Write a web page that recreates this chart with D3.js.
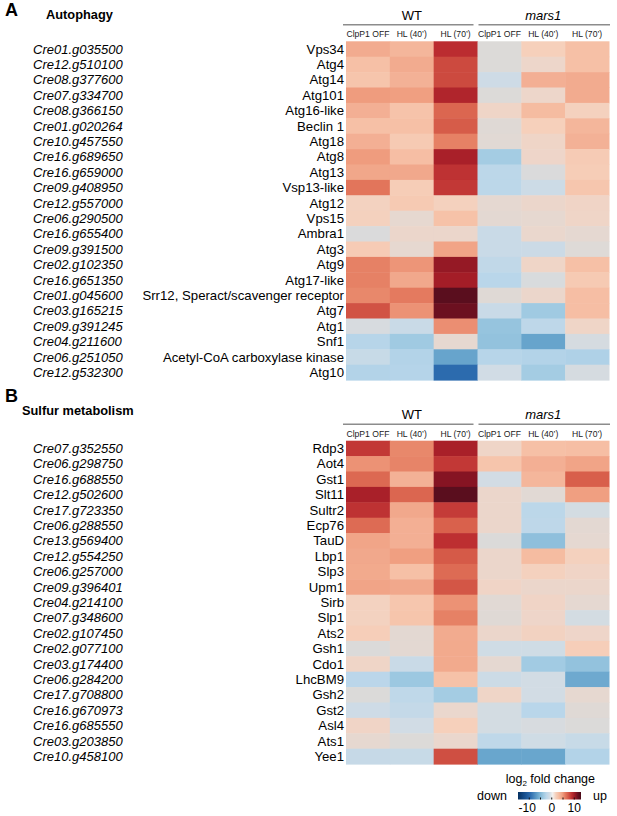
<!DOCTYPE html>
<html>
<head>
<meta charset="utf-8">
<script src="https://cdn.jsdelivr.net/npm/d3@7"></script>
<style>
  body { margin: 0; background: #fff; }
  svg { display: block; font-family: "Liberation Sans", Arial, sans-serif; }
</style>
</head>
<body>
<div id="chart"></div>
<script>
// columns
let strains = ["WT", "mars1"];
let conditions = ["ClpP1 OFF", "HL (40\u2019)", "HL (70\u2019)"];
let columns = ["WT_ClpP1", "WT_HL40", "WT_HL70", "mars1_ClpP1", "mars1_HL40", "mars1_HL70"];

// A - Autophagy
let autophagyIds = ["Cre01.g035500", "Cre12.g510100", "Cre08.g377600", "Cre07.g334700", "Cre08.g366150",
    "Cre01.g020264", "Cre10.g457550", "Cre16.g689650", "Cre16.g659000", "Cre09.g408950", "Cre12.g557000",
    "Cre06.g290500", "Cre16.g655400", "Cre09.g391500", "Cre02.g102350", "Cre16.g651350", "Cre01.g045600",
    "Cre03.g165215", "Cre09.g391245", "Cre04.g211600", "Cre06.g251050", "Cre12.g532300"];
let autophagyNames = ["Vps34", "Atg4", "Atg14", "Atg101", "Atg16-like", "Beclin 1", "Atg18", "Atg8", "Atg13",
    "Vsp13-like", "Atg12", "Vps15", "Ambra1", "Atg3", "Atg9", "Atg17-like", "Srr12, Speract/scavenger receptor",
    "Atg7", "Atg1", "Snf1", "Acetyl-CoA carboxylase kinase", "Atg10"];
let autophagyValues = [
    [4, 3.5, 9, 0, 2, 3],
    [3, 4, 8, 0, 1, 3],
    [2.7, 3.7, 8, -1.2, 3.8, 4],
    [5, 4.8, 9.5, 0, 1, 4],
    [3.8, 2.8, 6.8, 1.2, 3.2, 1.8],
    [3, 3, 7.2, 0.2, 2, 3.5],
    [3.8, 2.4, 5.8, 0.3, 1.2, 3.7],
    [5, 3.1, 9.8, -3.5, 1.1, 2.3],
    [4.3, 4.2, 8.8, -2.3, -0.2, 2.2],
    [6.2, 2.2, 8.6, -2.3, -1.3, 2.6],
    [1.7, 2.4, 1.8, 0.5, 0.9, 1.3],
    [1.8, 0.6, 2.9, 0.4, 0.6, 1.2],
    [-0.2, 0.9, 0.9, -1.5, 0.8, 0.5],
    [2.3, 0.6, 4.5, -1.5, -1.4, 0.1],
    [5.8, 5.2, 10.4, -2, 1.2, 3],
    [5.8, 4.2, 10, -2.5, -0.4, 2.4],
    [5.6, 6, 12, 0.2, 0.9, 3.1],
    [7.6, 5.3, 11.5, -1.5, -3.7, 3.1],
    [-0.5, -1.5, 5.4, -4.2, -2.2, 1.2],
    [-2.6, -3.7, 0.6, -4.3, -6.3, -0.6],
    [-1.6, -2.8, -6.3, -2.6, -2.8, -3],
    [-2.8, -2.7, -9.5, -1, -3.5, -0.6]
];

// B - Sulfur metabolism
let sulfurIds = ["Cre07.g352550", "Cre06.g298750", "Cre16.g688550", "Cre12.g502600", "Cre17.g723350",
    "Cre06.g288550", "Cre13.g569400", "Cre12.g554250", "Cre06.g257000", "Cre09.g396401", "Cre04.g214100",
    "Cre07.g348600", "Cre02.g107450", "Cre02.g077100", "Cre03.g174400", "Cre06.g284200", "Cre17.g708800",
    "Cre16.g670973", "Cre16.g685550", "Cre03.g203850", "Cre10.g458100"];
let sulfurNames = ["Rdp3", "Aot4", "Gst1", "Slt11", "Sultr2", "Ecp76", "TauD", "Lbp1", "Slp3", "Upm1", "Sirb",
    "Slp1", "Ats2", "Gsh1", "Cdo1", "LhcBM9", "Gsh2", "Gst2", "Asl4", "Ats1", "Yee1"];
let sulfurValues = [
    [8.6, 5.6, 9.8, 1.2, 3, 3.1],
    [5.3, 5.7, 8.6, 2.7, 3.8, 4.5],
    [6.7, 3.7, 10.8, -0.9, 3.5, 7.1],
    [9.8, 6.8, 12, 0.9, 0.3, 4.8],
    [8.8, 4.2, 8.5, 0.9, -2.3, -0.8],
    [6.6, 3.8, 7, 0.9, -2.2, 0.4],
    [4.4, 3.8, 8.9, -0.1, -4.5, 0.5],
    [4.2, 4.8, 7.3, 0.9, 3.2, 1.8],
    [4.1, 3, 6.6, 0.9, 1.8, 1.3],
    [4.5, 4.2, 7.5, 1.3, 0.9, 0.9],
    [1.7, 2.6, 5.3, 0.3, 1.3, 0.5],
    [1.7, 2.7, 5.8, 0.2, 1.1, -0.8],
    [2.1, 0.4, 4, 0.9, 1.6, 1.1],
    [-0.1, 0.4, 4.1, -1.1, -1.1, 2.1],
    [1.2, -1.5, 4.1, 0.5, -3.6, -4.3],
    [-2.4, -3.9, 2.9, -1.3, -0.9, -6],
    [-0.1, -2.1, -3.5, 1.2, -0.9, 0.6],
    [-1.2, -1.8, 0.8, -0.8, -2.5, 0.2],
    [1.3, -1, 2, -0.8, -0.5, -0.1],
    [0.6, 0, 0.8, -2.1, -1.1, -1.6],
    [-1.7, -1.6, 7.8, -6.2, -6.2, -2.8]
];

let legendTicks = [-10, 0, 10];
let legendMinor = [-10, -5, 0, 5, 10];

let svgWidth = 617;
let svgHeight = 816;
let rowHeight = 15.4;
let heatLeft = 346;
let heatRight = 609;

let svg = d3.select("#chart")
    .append("svg")
    .attr("width", svgWidth)
    .attr("height", svgHeight);

// log2 fold change colour scale
let color = d3.scaleLinear()
    .domain([-15, -12, -9.5, -6.3, -4, -2.5, -1, 0, 1, 2, 3, 4, 5, 6, 7, 8, 9, 10, 11, 12, 13])
    .range(["#053061", "#17508f", "#2c6bae", "#67a4cc", "#9ac7e0", "#b9d6ea", "#d1dce5", "#dcdad8",
        "#edd6ca", "#f6d0bb", "#f6c0a6", "#f2ab8f", "#ef9c7e", "#e47a5f", "#d9614c", "#cc4a3f",
        "#bb2c30", "#a41d27", "#7e1222", "#5a0e1e", "#4a0a18"])
    .clamp(true);

let x = d3.scaleBand()
    .domain(columns)
    .range([heatLeft, heatRight]);

function drawPanel(letter, title, ids, names, values, o) {
    let y = d3.scaleBand()
        .domain(ids)
        .range([o.top, o.top + ids.length * rowHeight]);

    svg.append("text")
        .attr("x", 5)
        .attr("y", o.letterY)
        .attr("font-size", 18)
        .attr("font-weight", "bold")
        .text(letter);

    svg.append("text")
        .attr("x", o.titleX)
        .attr("y", o.titleY)
        .attr("font-size", 12.8)
        .attr("font-weight", "bold")
        .text(title);

    // strain headers with underline
    strains.forEach(function (s, i) {
        let x0 = x(columns[i * 3]);
        let x1 = x(columns[i * 3 + 2]) + x.bandwidth();
        svg.append("text")
            .attr("x", (x0 + x1) / 2)
            .attr("y", o.top - 21.5)
            .attr("text-anchor", "middle")
            .attr("font-size", 13)
            .attr("font-style", i === 1 ? "italic" : "normal")
            .text(s);
        svg.append("line")
            .attr("x1", x0 - (i === 0 ? 3 : -1))
            .attr("x2", x1 - (i === 0 ? 4 : -1))
            .attr("y1", o.top - 16.5)
            .attr("y2", o.top - 16.5)
            .attr("stroke", "#8c8c8c")
            .attr("stroke-width", 1.4);
    });

    // condition sub headers
    columns.forEach(function (c, i) {
        svg.append("text")
            .attr("x", x(c) + x.bandwidth() / 2)
            .attr("y", o.top - 4)
            .attr("text-anchor", "middle")
            .attr("font-size", 8.6)
            .attr("fill", "#222")
            .text(conditions[i % 3]);
    });

    // cells
    let cells = [];
    values.forEach(function (row, r) {
        row.forEach(function (v, c) {
            cells.push({ id: ids[r], col: columns[c], value: v });
        });
    });

    svg.append("g").selectAll("rect")
        .data(cells)
        .enter()
        .append("rect")
        .attr("x", d => x(d.col))
        .attr("y", d => y(d.id))
        .attr("width", x.bandwidth() + 0.5)
        .attr("height", y.bandwidth() + 0.5)
        .attr("fill", d => color(d.value));

    // gene ids
    svg.append("g").selectAll("text")
        .data(ids)
        .enter()
        .append("text")
        .attr("x", 33)
        .attr("y", d => y(d) + y.bandwidth() / 2 + 4.6)
        .attr("font-size", 13)
        .attr("font-style", "italic")
        .text(d => d);

    // gene names
    svg.append("g").selectAll("text")
        .data(names)
        .enter()
        .append("text")
        .attr("x", heatLeft - 2)
        .attr("y", (d, i) => y(ids[i]) + y.bandwidth() / 2 + 4.6)
        .attr("text-anchor", "end")
        .attr("font-size", 13.2)
        .text(d => d);
}

drawPanel("A", "Autophagy", autophagyIds, autophagyNames, autophagyValues,
    { top: 41.3, letterY: 16, titleX: 46, titleY: 19 });
drawPanel("B", "Sulfur metabolism", sulfurIds, sulfurNames, sulfurValues,
    { top: 440.7, letterY: 402, titleX: 22, titleY: 415 });

// legend
let legendScale = d3.scaleLinear()
    .domain([-15, 13])
    .range([518, 581]);

let defs = svg.append("defs");
let grad = defs.append("linearGradient")
    .attr("id", "legendGrad");
d3.range(0, 1.0001, 0.05).forEach(function (t) {
    let v = -15 + t * 28;
    grad.append("stop")
        .attr("offset", t)
        .attr("stop-color", v > -1 && v < 1 ? "#f4f0ee" : color(v));
});

svg.append("rect")
    .attr("x", legendScale(-15))
    .attr("y", 792)
    .attr("width", legendScale(13) - legendScale(-15))
    .attr("height", 7.5)
    .attr("fill", "url(#legendGrad)");

svg.append("g").selectAll("line")
    .data(legendMinor)
    .enter()
    .append("line")
    .attr("x1", d => legendScale(d))
    .attr("x2", d => legendScale(d))
    .attr("y1", 797.5)
    .attr("y2", 799.5)
    .attr("stroke", "#111")
    .attr("stroke-width", 1);

svg.append("g").selectAll("text")
    .data(legendTicks)
    .enter()
    .append("text")
    .attr("x", d => legendScale(d) - (d < 0 ? 2 : 0))
    .attr("y", 812)
    .attr("text-anchor", "middle")
    .attr("font-size", 12)
    .text(d => d);

let legTitle = svg.append("text")
    .attr("x", 595)
    .attr("y", 783)
    .attr("text-anchor", "end")
    .attr("font-size", 12.5);
legTitle.append("tspan").text("log");
legTitle.append("tspan").attr("font-size", 8).attr("dy", 3).text("2");
legTitle.append("tspan").attr("dy", -3).text(" fold change");

svg.append("text")
    .attr("x", 507)
    .attr("y", 800)
    .attr("text-anchor", "end")
    .attr("font-size", 12.5)
    .text("down");

svg.append("text")
    .attr("x", 593)
    .attr("y", 800)
    .attr("font-size", 12.5)
    .text("up");
</script>
</body>
</html>
